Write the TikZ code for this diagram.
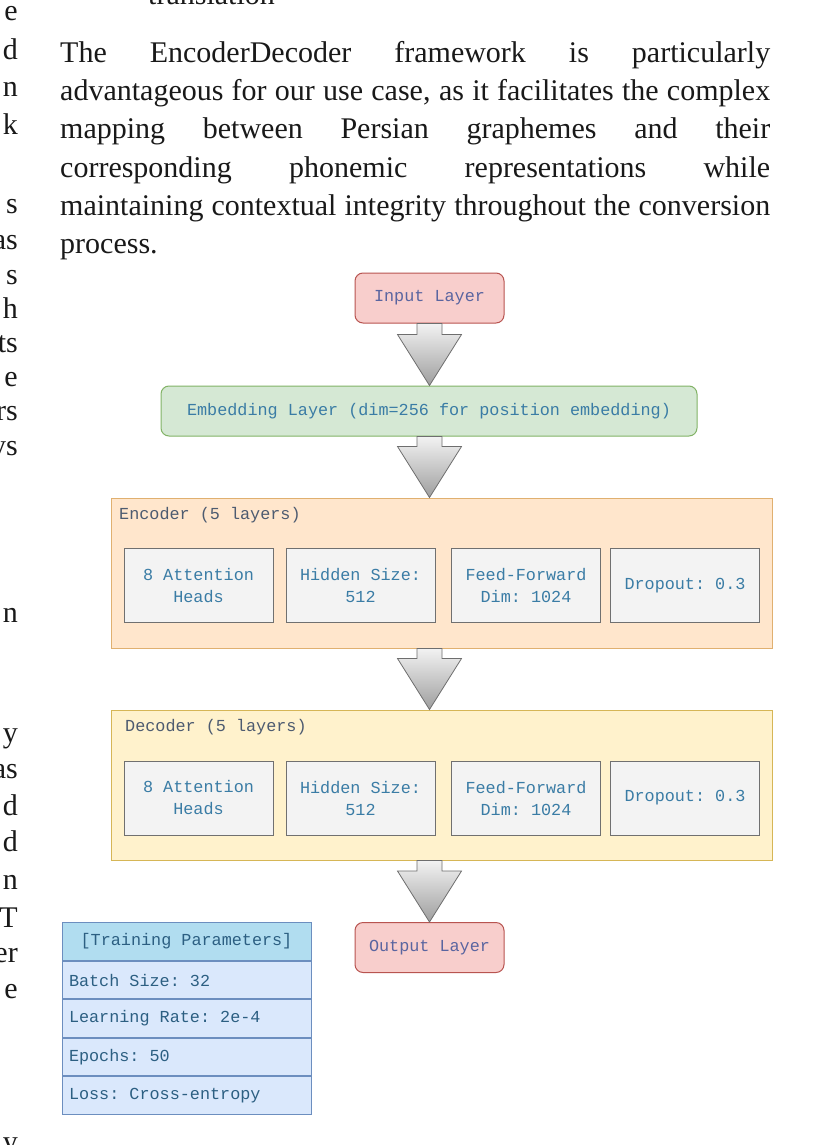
\documentclass[tikz,border=0pt]{standalone}
\usepackage{fontspec}
\setmainfont{Liberation Serif}
\newfontfamily\monof{Liberation Mono}
\usetikzlibrary{calc}
\definecolor{pinkfill}{HTML}{F8CECC}
\definecolor{pinkdraw}{HTML}{B85450}
\definecolor{greenfill}{HTML}{D5E8D4}
\definecolor{greendraw}{HTML}{82B366}
\definecolor{orangefill}{HTML}{FFE6CC}
\definecolor{orangedraw}{HTML}{E0B070}
\definecolor{yellowfill}{HTML}{FFF2CC}
\definecolor{yellowdraw}{HTML}{D6B656}
\definecolor{boxfill}{HTML}{F3F3F3}
\definecolor{boxdraw}{HTML}{707070}
\definecolor{headfill}{HTML}{B1DDF0}
\definecolor{rowfill}{HTML}{DAE8FC}
\definecolor{tabdraw}{HTML}{6C8EBF}
\definecolor{layertext}{HTML}{5A65A0}
\definecolor{boxtext}{HTML}{3A7CA5}
\definecolor{labeltext}{HTML}{4D5B70}
\definecolor{tabtext}{HTML}{2C5F82}
\definecolor{arrowdraw}{HTML}{6E6E6E}
\tikzset{
  serif/.style={inner sep=0pt, font=\fontsize{30}{38}\selectfont, text=black!90},
  mono/.style={font=\monof\fontsize{16.8}{22}\selectfont\frenchspacing},
  layerbox/.style={mono, draw=pinkdraw, fill=pinkfill, line width=1pt, rounded corners=8pt,
    minimum width=149pt, minimum height=50pt, text=layertext, inner sep=0pt},
  embbox/.style={mono, draw=greendraw, fill=greenfill, line width=1pt, rounded corners=8pt,
    minimum width=536pt, minimum height=50pt, text=boxtext, inner sep=0pt},
  container/.style={draw=#1, line width=1pt, minimum width=661pt, minimum height=150pt, inner sep=0pt},
  grouplabel/.style={mono, text=labeltext, anchor=west, inner sep=0pt},
  innerbox/.style={mono, draw=boxdraw, fill=boxfill, line width=1pt, minimum width=149pt,
    minimum height=74pt, align=center, text=boxtext, inner sep=0pt},
  tabrow/.style={mono, draw=tabdraw, fill=rowfill, line width=1pt, minimum width=249pt,
    minimum height=37.5pt, text=tabtext, inner sep=0pt},
  blockarrow/.style={draw=arrowdraw, line width=0.8pt, top color=black!5, bottom color=black!38},
}
\newcommand\blockarr[3]{%
  \path[blockarrow]
    ($(#1.south |- #2.south)+(-12.5,0)$) -- ($(#1.south |- #2.south)+(12.5,0)$)
    -- ($(#1.south |- #3.north)+(12.5,-51)$) -- ($(#1.south |- #3.north)+(32,-51)$)
    -- (#1.south |- #3.north)
    -- ($(#1.south |- #3.north)+(-32,-51)$) -- ($(#1.south |- #3.north)+(-12.5,-51)$)
    -- cycle;}
\newcommand\rowtext[1]{\makebox[235pt][l]{#1}}
\begin{document}
\begin{tikzpicture}[x=1pt,y=-1pt]
\useasboundingbox (0,0) rectangle (829,1145);
\fill[white] (0,0) rectangle (829,1145);

% cut-off heading at the top
\node[serif, anchor=base west] (top) at (148,5) {translation};

% paragraph
\node[serif, anchor=base west] (p1) at (60,62.3) {\makebox[710pt][s]{The EncoderDecoder framework is particularly}};
\node[serif, anchor=base west] (p2) at (60,100.6) {\makebox[710pt][s]{advantageous for our use case, as it facilitates the complex}};
\node[serif, anchor=base west] (p3) at (60,138.9) {\makebox[710pt][s]{mapping between Persian graphemes and their}};
\node[serif, anchor=base west] (p4) at (60,177.2) {\makebox[710pt][s]{corresponding phonemic representations while}};
\node[serif, anchor=base west] (p5) at (60,215.5) {\makebox[710pt][s]{maintaining contextual integrity throughout the conversion}};
\node[serif, anchor=base west] (p6) at (60,253.8) {process.};

% fragments of the neighbouring column
\foreach \t/\b [count=\i] in {e/21, d/60, n/97, k/135, s/213, as/249, s/284, h/318,
  ts/352, e/386, rs/420, ys/455, n/622, y/742, as/778, d/815, d/851, n/889,
  T/927, er/962, e/998, y/1151}
  \node[serif, anchor=base east] (f\i) at (18,\b) {\t};

% diagram
\node[layerbox] (in) at (429.5,298) {Input Layer};
\node[embbox] (emb) at (429,411) {Embedding Layer (dim=256 for position embedding)};

\node[container=orangedraw, fill=orangefill] (enc) at (441.5,573) {};
\node[grouplabel] (encl) at (119,515.5) {Encoder (5 layers)};
\node[innerbox] (e1) at (198.5,585.5) {8 Attention\\Heads};
\node[innerbox] (e2) at (360.5,585.5) {Hidden Size:\\512};
\node[innerbox] (e3) at (526,585.5) {Feed-Forward\\Dim: 1024};
\node[innerbox] (e4) at (685,585.5) {Dropout: 0.3};

\node[container=yellowdraw, fill=yellowfill] (dec) at (441.5,785) {};
\node[grouplabel] (decl) at (125,727.5) {Decoder (5 layers)};
\node[innerbox] (d1) at (198.5,798) {8 Attention\\Heads};
\node[innerbox] (d2) at (360.5,798) {Hidden Size:\\512};
\node[innerbox] (d3) at (526,798) {Feed-Forward\\Dim: 1024};
\node[innerbox] (d4) at (685,798) {Dropout: 0.3};

\node[layerbox] (out) at (429.5,947.5) {Output Layer};

\blockarr{in}{in}{emb}
\blockarr{in}{emb}{enc}
\blockarr{in}{enc}{dec}
\blockarr{in}{dec}{out}

% training parameters table
\node[tabrow, fill=headfill] (t0) at (186.5,941.5) {[Training Parameters]};
\node[tabrow, anchor=north] (t1) at (t0.south) {\rowtext{Batch Size: 32}};
\node[tabrow, anchor=north] (t2) at (t1.south) {\rowtext{Learning Rate: 2e-4}};
\node[tabrow, anchor=north] (t3) at (t2.south) {\rowtext{Epochs: 50}};
\node[tabrow, anchor=north] (t4) at (t3.south) {\rowtext{Loss: Cross-entropy}};
\end{tikzpicture}
\end{document}
